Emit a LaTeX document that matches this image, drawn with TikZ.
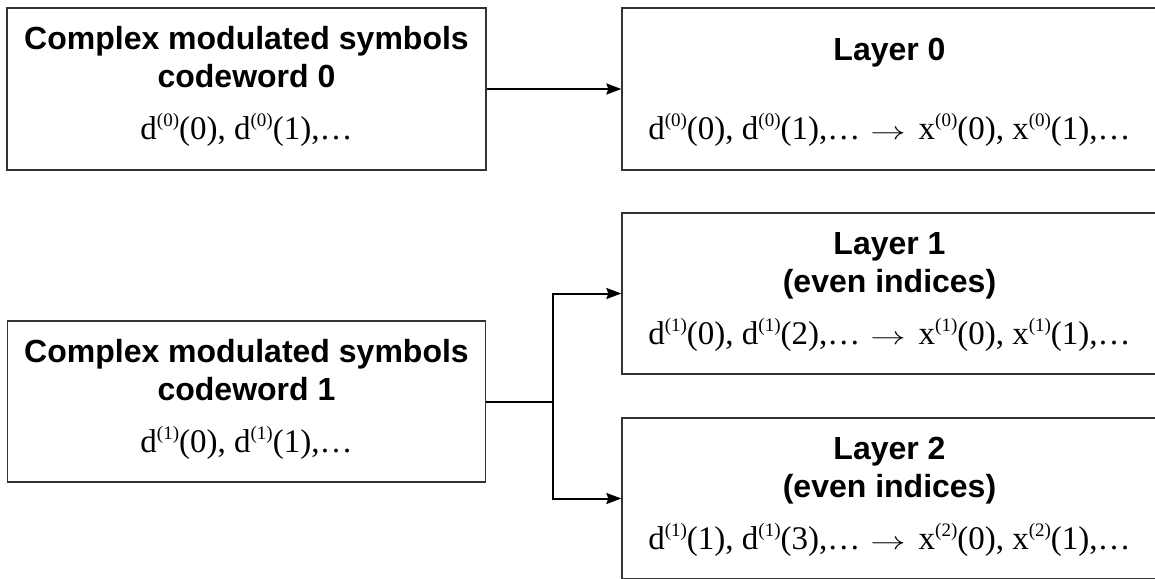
\documentclass[tikz,border=0pt]{standalone}
\usepackage{fontspec}
\setmainfont{Liberation Serif}
\newfontfamily\hdfont{Liberation Sans}
\usetikzlibrary{arrows.meta,calc}
\newcommand\sq[1]{\raisebox{0.4em}{\fontsize{19}{19}\selectfont #1}}
\newcommand\yields{\hspace{10pt}\scalebox{1.42}[1]{$\rightarrow$}\hspace{13pt}}
\begin{document}
\begin{tikzpicture}[x=1pt,y=-1pt,
  box/.style={draw=black!80, line width=1.3pt, inner sep=0pt},
  hd/.style={font=\hdfont\bfseries\fontsize{32}{36}\selectfont, anchor=base, inner sep=0pt},
  fm/.style={font=\fontsize{33}{36}\selectfont, anchor=base, inner sep=0pt},
  conn/.style={line width=2pt, -{Stealth[length=15pt,width=11pt,inset=2pt]}}]
\useasboundingbox (0,0) rectangle (1155,578);
% boxes
\node[box, minimum width=479pt, minimum height=162pt] (cw0) at (246.5,89) {};
\node[box, minimum width=478pt, minimum height=161pt] (cw1) at (246.5,401.5) {};
\node[box, minimum width=535pt, minimum height=162pt] (l0) at (889.5,89) {};
\node[box, minimum width=535pt, minimum height=161pt] (l1) at (889.5,293.5) {};
\node[box, minimum width=535pt, minimum height=161pt] (l2) at (889.5,498.5) {};
% texts
\node[hd] (cw0a) at ($(cw0.north)+(0,42)$) {Complex modulated symbols};
\node[hd] (cw0b) at ($(cw0.north)+(0,80)$) {codeword 0};
\node[fm] (cw0c) at ($(cw0.north)+(0,132)$) {d\sq{(0)}(0), d\sq{(0)}(1),…};
\node[hd] (cw1a) at ($(cw1.north)+(0,42)$) {Complex modulated symbols};
\node[hd] (cw1b) at ($(cw1.north)+(0,80)$) {codeword 1};
\node[fm] (cw1c) at ($(cw1.north)+(0,132)$) {d\sq{(1)}(0), d\sq{(1)}(1),…};
\node[hd] (l0a) at ($(l0.north)+(0,53)$) {Layer 0};
\node[fm] (l0c) at ($(l0.north)+(0,132)$) {d\sq{(0)}(0), d\sq{(0)}(1),…\yields x\sq{(0)}(0), x\sq{(0)}(1),…};
\node[hd] (l1a) at ($(l1.north)+(0,42)$) {Layer 1};
\node[hd] (l1b) at ($(l1.north)+(0,80)$) {(even indices)};
\node[fm] (l1c) at ($(l1.north)+(0,132)$) {d\sq{(1)}(0), d\sq{(1)}(2),…\yields x\sq{(1)}(0), x\sq{(1)}(1),…};
\node[hd] (l2a) at ($(l2.north)+(0,42)$) {Layer 2};
\node[hd] (l2b) at ($(l2.north)+(0,80)$) {(even indices)};
\node[fm] (l2c) at ($(l2.north)+(0,132)$) {d\sq{(1)}(1), d\sq{(1)}(3),…\yields x\sq{(2)}(0), x\sq{(2)}(1),…};
% connectors
\coordinate (j) at (553,401.5);
\draw[conn] (cw0.east) -- (l0.west);
\draw[conn] (cw1.east) -- (j) |- (l1.west);
\draw[conn] (j) |- (l2.west);
\end{tikzpicture}
\end{document}
